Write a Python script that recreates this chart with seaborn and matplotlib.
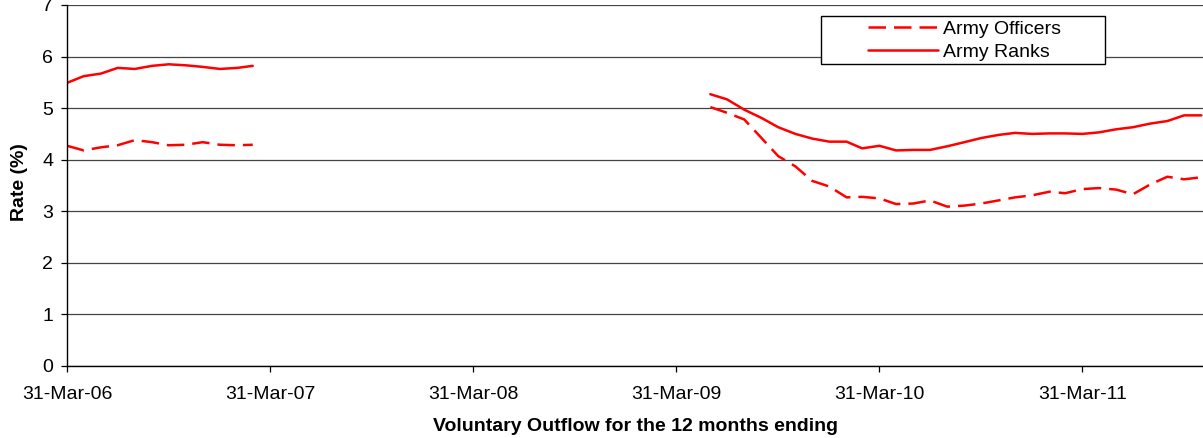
import pandas as pd
import matplotlib.pyplot as plt
import matplotlib.dates as mdates
from matplotlib.patches import Rectangle
import seaborn as sns

# monthly data, 12 months ending on each date
months_a = pd.date_range('2006-03-31', periods=12, freq='ME')
months_b = pd.date_range('2009-05-31', periods=30, freq='ME')

officers_a = [4.27, 4.18, 4.24, 4.28, 4.38, 4.34, 4.28, 4.29, 4.34, 4.29, 4.28, 4.29]
ranks_a = [5.49, 5.62, 5.67, 5.78, 5.76, 5.82, 5.85, 5.83, 5.80, 5.76, 5.78, 5.82]

officers_b = [5.02, 4.91, 4.78, 4.42, 4.07, 3.87, 3.59, 3.48,
              3.27, 3.28, 3.25, 3.14, 3.15, 3.21, 3.09, 3.11, 3.15, 3.21, 3.27, 3.31,
              3.38, 3.35, 3.43, 3.45, 3.42, 3.33, 3.52, 3.67, 3.62, 3.66]
ranks_b = [5.27, 5.17, 4.97, 4.81, 4.63, 4.50, 4.41, 4.35,
           4.35, 4.22, 4.27, 4.18, 4.19, 4.19, 4.26, 4.34, 4.42, 4.48, 4.52, 4.50,
           4.51, 4.51, 4.50, 4.53, 4.59, 4.63, 4.70, 4.75, 4.86, 4.86]

series_names = ['Army Officers', 'Army Ranks']
tick_dates = pd.to_datetime(['2006-03-31', '2007-03-31', '2008-03-31',
                             '2009-03-31', '2010-03-31', '2011-03-31'])

parts = []
for name, seg, dates, vals in [
        ('Army Officers', 'off_a', months_a, officers_a),
        ('Army Officers', 'off_b', months_b, officers_b),
        ('Army Ranks', 'rnk_a', months_a, ranks_a),
        ('Army Ranks', 'rnk_b', months_b, ranks_b)]:
    parts.append(pd.DataFrame({'date': dates, 'rate': vals,
                               'series': name, 'segment': seg}))
df = pd.concat(parts, ignore_index=True)

sns.set_style('white')
plt.rcParams['font.family'] = ['Liberation Sans', 'DejaVu Sans']
plt.rcParams['text.color'] = 'black'
plt.rcParams['axes.labelcolor'] = 'black'

fig = plt.figure(figsize=(12.03, 4.38), dpi=100)
ax = fig.add_axes([0.0557, 0.1644, 1 - 0.0557, 0.9886 - 0.1644])

sns.lineplot(data=df, x='date', y='rate', style='series', units='segment',
             estimator=None, style_order=series_names,
             dashes={'Army Officers': (7, 3.2), 'Army Ranks': ''},
             color='#ff0000', linewidth=1.8, ax=ax)

ax.set_ylim(0, 7)
ax.set_yticks(range(0, 8))
ax.set_xlim(pd.Timestamp('2006-03-31'), pd.Timestamp('2011-11-03'))
ax.set_xticks(tick_dates)
ax.xaxis.set_major_formatter(mdates.DateFormatter('%d-%b-%y'))

ax.grid(axis='y', color='#444444', linewidth=0.9)
ax.grid(axis='x', visible=False)
for s in ['top', 'right']:
    ax.spines[s].set_visible(False)
for s in ['left', 'bottom']:
    ax.spines[s].set_color('black')
    ax.spines[s].set_linewidth(1.0)

ax.tick_params(axis='both', direction='out', length=4.5, width=0.9,
               color='black', labelsize=14, labelcolor='black',
               left=True, bottom=True)
ax.tick_params(axis='y', pad=5.5)
ax.tick_params(axis='x', pad=10)

ax.set_xlabel('Voluntary Outflow for the 12 months ending',
              fontsize=14, fontweight='bold', labelpad=11)
ax.set_ylabel('Rate (%)', fontsize=14, fontweight='bold')
ax.yaxis.set_label_coords(-0.034, 0.51)

# legend box
ax.add_patch(Rectangle((0.6637, 0.8357), 0.25, 0.1347, transform=ax.transAxes,
                       facecolor='white', edgecolor='black', linewidth=1.0,
                       zorder=4))
sns.move_legend(ax, 'center left', bbox_to_anchor=(0.6963, 0.9017),
                frameon=False, title=None, fontsize=14, handlelength=3.6,
                handletextpad=0.26, borderpad=0, labelspacing=0.3)
ax.get_legend().set_zorder(5)

fig.savefig('out.png', dpi=100)
